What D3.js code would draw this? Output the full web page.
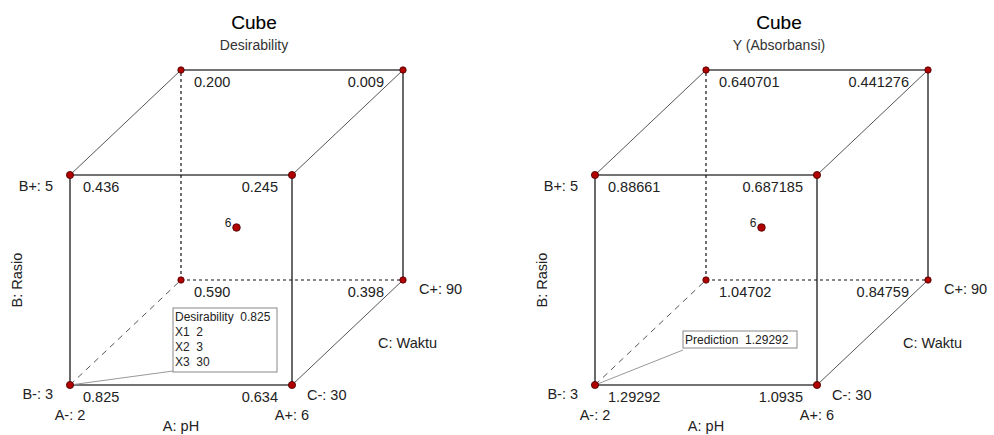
<!DOCTYPE html>
<html lang="en">
<head>
  <meta charset="UTF-8">
  <title>Cube plots</title>
  <script src="https://d3js.org/d3.v7.min.js"></script>
  <style>
    body { margin: 0; background: #fff; }
    text { font-family: "Liberation Sans", Arial, sans-serif; fill: #222; }
  </style>
</head>
<body>
<div id="chart"></div>
<script>
// factor levels for the 8 corners (A: pH, B: Rasio, C: Waktu)
const levelA = [2, 6, 2, 6, 2, 6, 2, 6];
const levelB = [3, 3, 5, 5, 3, 3, 5, 5];
const levelC = [30, 30, 30, 30, 90, 90, 90, 90];

// corner values
const desirability = ["0.825", "0.634", "0.436", "0.245", "0.590", "0.398", "0.200", "0.009"];
const absorbansi = ["1.29292", "1.0935", "0.88661", "0.687185", "1.04702", "0.84759", "0.640701", "0.441276"];

// center point
const centerA = 4, centerB = 4, centerC = 60, centerCount = "6";

const panels = [
  { title: "Cube", subtitle: "Desirability", values: desirability,
    note: ["Desirability  0.825", "X1  2", "X2  3", "X3  30"] },
  { title: "Cube", subtitle: "Y (Absorbansi)", values: absorbansi,
    note: ["Prediction  1.29292"] }
];

// edges: [from, to, style]
const edges = [
  [0, 1, "front"], [2, 3, "front"], [0, 2, "front"], [1, 3, "front"],
  [6, 7, "front"], [5, 7, "front"],
  [2, 6, "depth"], [3, 7, "depth"], [1, 5, "depth"],
  [0, 4, "hidden"], [4, 5, "hidden"], [4, 6, "hidden"]
];

const width = 994, height = 435;
const svg = d3.select("#chart").append("svg")
  .attr("width", width).attr("height", height);

panels.forEach((p, i) => {
  const ox = 70 + i * 525;   // front bottom-left corner
  const oy = 385;

  const x = d3.scaleLinear().domain([2, 6]).range([0, 222]);
  const y = d3.scaleLinear().domain([3, 5]).range([0, -210]);
  const cx = d3.scaleLinear().domain([30, 90]).range([0, 111]);
  const cy = d3.scaleLinear().domain([30, 90]).range([0, -105]);

  const px = (a, c) => ox + x(a) + cx(c);
  const py = (b, c) => oy + y(b) + cy(c);

  const g = svg.append("g");

  // titles
  g.append("text").attr("x", ox + 184).attr("y", 29)
    .attr("text-anchor", "middle").style("font-size", "19px").style("fill", "#000")
    .style("stroke", "#000").style("stroke-width", 0.12)
    .text(p.title);
  g.append("text").attr("x", ox + 184).attr("y", 50)
    .attr("text-anchor", "middle").style("font-size", "14px").style("fill", "#333")
    .text(p.subtitle);

  // edges
  edges.forEach(([a, b, s]) => {
    const diag = s === "hidden" && a === 0;
    g.append("line")
      .attr("x1", px(levelA[a], levelC[a])).attr("y1", py(levelB[a], levelC[a]))
      .attr("x2", px(levelA[b], levelC[b])).attr("y2", py(levelB[b], levelC[b]))
      .attr("stroke", s === "depth" || diag ? "#555" : s === "hidden" ? "#111" : "#444")
      .attr("stroke-width", s === "front" ? 1.6 : (s === "hidden" && !diag) ? 1.2 : 1)
      .attr("stroke-dasharray", s === "hidden" ? (diag ? "6,5" : "3,3") : null);
  });

  // annotation box linked to the A-,B-,C- corner
  const bx = i === 0 ? ox + 103 : ox + 88;
  const by = i === 0 ? 308 : 331;
  const bw = i === 0 ? 104 : 114;
  const bh = i === 0 ? 64 : 17;
  g.append("line")
    .attr("x1", px(levelA[0], levelC[0])).attr("y1", py(levelB[0], levelC[0]))
    .attr("x2", bx).attr("y2", i === 0 ? by + bh - 1 : by + bh + 2)
    .attr("stroke", "#999").attr("stroke-width", 1);
  g.append("rect").attr("x", bx).attr("y", by).attr("width", bw).attr("height", bh)
    .attr("fill", "#fff").attr("stroke", "#888").attr("stroke-width", 1);
  p.note.forEach((t, k) => {
    g.append("text").attr("x", bx + 2).attr("y", by + 13 + k * 15)
      .style("font-size", "12px").style("fill", "#222")
      .attr("xml:space", "preserve").style("white-space", "pre")
      .text(t);
  });

  // corner values
  p.values.forEach((v, k) => {
    const lo = levelA[k] === 2;
    const far = levelC[k] === 90;
    g.append("text")
      .attr("x", px(levelA[k], levelC[k]) + (lo ? 13 : (far ? -19 : -14)))
      .attr("y", py(levelB[k], levelC[k]) + 17)
      .attr("text-anchor", lo ? "start" : "end")
      .style("font-size", "14.5px")
      .text(v);
  });

  // corner points
  levelA.forEach((a, k) => {
    g.append("circle")
      .attr("cx", px(a, levelC[k])).attr("cy", py(levelB[k], levelC[k]))
      .attr("r", levelC[k] === 30 ? 3.6 : 3.2)
      .attr("fill", "#b00000").attr("stroke", "#400").attr("stroke-width", 0.8);
  });

  // center point
  const ccx = px(centerA, centerC), ccy = py(centerB, centerC);
  g.append("circle").attr("cx", ccx).attr("cy", ccy).attr("r", 3.8)
    .attr("fill", "#b00000").attr("stroke", "#400").attr("stroke-width", 0.8);
  g.append("text").attr("x", ccx - 5).attr("y", ccy - 1)
    .attr("text-anchor", "end").style("font-size", "12px").text(centerCount);

  // factor labels
  const left = px(2, 30), right = px(6, 30);
  const lab = (tx, ty, t, anchor) => g.append("text").attr("x", tx).attr("y", ty)
    .attr("text-anchor", anchor).style("font-size", "14.5px").text(t);
  lab(left - 17, py(5, 30) + 16, "B+: 5", "end");
  lab(left - 17, oy + 14, "B-: 3", "end");
  lab(left, oy + 35, "A-: 2", "middle");
  lab(right, oy + 35, "A+: 6", "middle");
  lab(left + 111, oy + 46, "A: pH", "middle");
  lab(right + 15, oy + 15, "C-: 30", "start");
  lab(px(6, 90) + 16, py(3, 90) + 14, "C+: 90", "start");
  lab(right + 86, oy - 37, "C: Waktu", "start");
  g.append("text")
    .attr("transform", `translate(${left - 48},${oy - 105}) rotate(-90)`)
    .attr("text-anchor", "middle").style("font-size", "14.5px").text("B: Rasio");
});
</script>
</body>
</html>
